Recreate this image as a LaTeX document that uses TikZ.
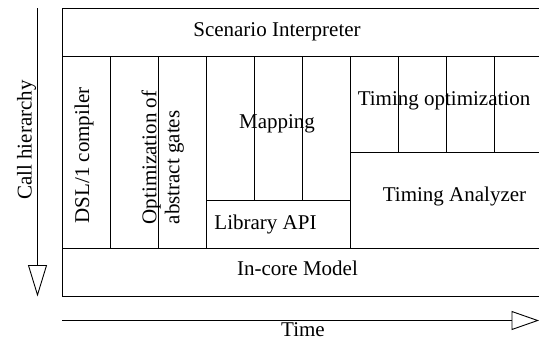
\documentclass[tikz,border=0pt]{standalone}
\usepackage{fontspec}
\setmainfont{Liberation Serif}
\usetikzlibrary{arrows.meta}
\begin{document}
\begin{tikzpicture}[x=1pt,y=-1pt,
  cell/.style={draw,rectangle,inner sep=0pt,anchor=north west,line width=0.9pt},
  lbl/.style={inner sep=0pt,font=\fontsize{21}{23}\selectfont},
  axis/.style={line width=0.9pt,-{Triangle[open,length=#1,width=19pt,line width=0.9pt]}}]
  \useasboundingbox (0,0) rectangle (539,341);
  \clip (0,0) rectangle (539,341);

  % layered blocks (one unit = 48)
  \node[cell,minimum width=480pt,minimum height=48pt]  (scen)  at (62,8)    {};
  \node[cell,minimum width=48pt,minimum height=192pt]  (dsl)   at (62,56)   {};
  \node[cell,minimum width=48pt,minimum height=192pt]  (opta)  at (110,56)  {};
  \node[cell,minimum width=48pt,minimum height=192pt]  (optb)  at (158,56)  {};
  \node[cell,minimum width=48pt,minimum height=144pt]  (mapa)  at (206,56)  {};
  \node[cell,minimum width=48pt,minimum height=144pt]  (mapb)  at (254,56)  {};
  \node[cell,minimum width=48pt,minimum height=144pt]  (mapc)  at (302,56)  {};
  \node[cell,minimum width=144pt,minimum height=48pt]  (lib)   at (206,200) {};
  \node[cell,minimum width=48pt,minimum height=96pt]   (topta) at (350,56)  {};
  \node[cell,minimum width=48pt,minimum height=96pt]   (toptb) at (398,56)  {};
  \node[cell,minimum width=48pt,minimum height=96pt]   (toptc) at (446,56)  {};
  \node[cell,minimum width=48pt,minimum height=96pt]   (toptd) at (494,56)  {};
  \node[cell,minimum width=192pt,minimum height=96pt]  (tana)  at (350,152) {};
  \node[cell,minimum width=480pt,minimum height=48pt]  (core)  at (62,248)  {};

  % block labels
  \node[lbl,anchor=base] (scentxt) at (277,36) {Scenario Interpreter};
  \node[lbl,anchor=base,rotate=90] (dsltxt) at (89,155.5) {DSL/1 compiler};
  \node[lbl,anchor=north west,rotate=90,align=left] (opttxt) at (141.5,224.5)
    {Optimization of\\abstract gates};
  \node[lbl,anchor=base] (maptxt)  at (277,128)   {Mapping};
  \node[lbl,anchor=base] (libtxt)  at (265.5,229) {Library API};
  \node[lbl,anchor=base] (topttxt) at (444,105)   {Timing optimization};
  \node[lbl,anchor=base] (tanatxt) at (454.5,201) {Timing Analyzer};
  \node[lbl,anchor=base] (coretxt) at (297.5,275) {In-core Model};

  % axes
  \coordinate (chtop) at (37.5,8);
  \coordinate (chend) at (37.5,296.5);
  \draw[axis=31.5pt] (chtop) -- (chend);
  \node[lbl,anchor=base,rotate=90] (chtxt) at (31.5,140) {Call hierarchy};

  \coordinate (tstart) at (62,320.5);
  \coordinate (tend)   at (539,320.5);
  \draw[axis=27.5pt] (tstart) -- (tend);
  \node[lbl,anchor=base] (ttxt) at (303,336.5) {Time};
\end{tikzpicture}
\end{document}
